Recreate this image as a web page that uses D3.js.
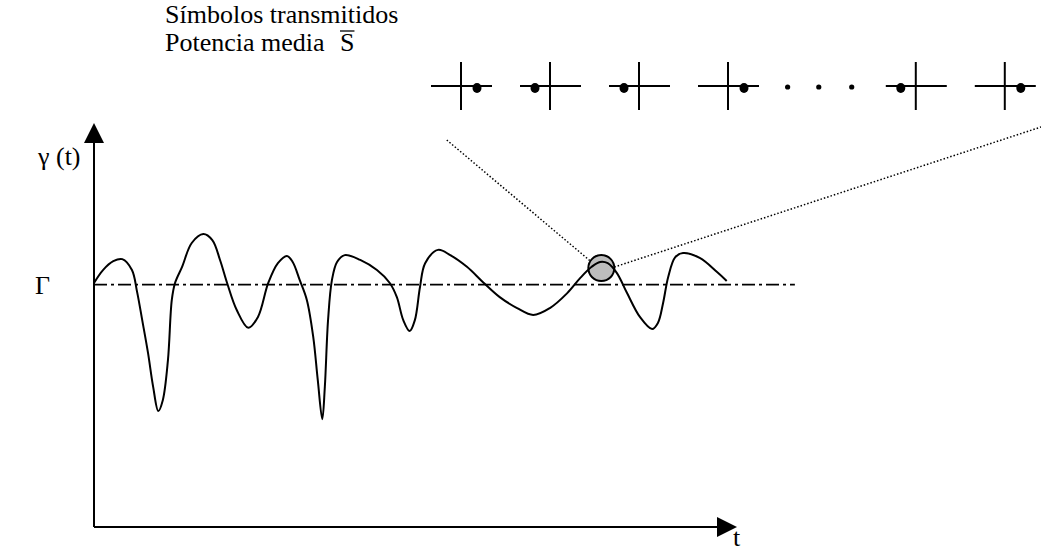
<!DOCTYPE html>
<html>
<head>
<meta charset="utf-8">
<script src="https://cdn.jsdelivr.net/npm/d3@7"></script>
<style>
	body { margin: 0; background: #fff; }
	text { font-family: "Liberation Serif", "Times New Roman", serif; fill: #000; }
</style>
</head>
<body>
<div class="fading-figure"></div>
<script>

// instantaneous SNR gamma(t)
const tValues = [0, 1.4, 3.0, 4.4, 5.9, 6.7, 7.5, 8.4, 9.2, 10.0, 10.7, 11.5, 12.1, 12.6, 13.7, 15.2,
	17.0, 18.4, 19.6, 20.7, 22.2, 24.0, 25.5, 27.1, 28.6, 30.0, 30.9, 32.0, 33.1, 34.1, 34.8, 35.5,
	35.9, 36.4, 37.0, 37.8, 39.0, 41.4, 44.0, 46.0, 47.1, 48.1, 49.1, 49.9, 50.7, 51.5, 53.5, 55.4,
	58.0, 60.5, 63.1, 65.8, 68.3, 70.9, 73.6, 75.6, 77.4, 78.7, 79.9, 81.3, 82.9, 84.9, 86.8, 87.7,
	88.5, 89.3, 90.4, 91.6, 94.2, 96.9, 98.4];
const gammaValues = [6.04, 6.36, 6.58, 6.63, 6.36, 5.82, 5.12, 4.31, 3.47, 2.87, 3.14, 4.13, 5.62, 6.04, 6.44, 7.03,
	7.25, 7.10, 6.61, 6.04, 5.37, 4.93, 5.20, 6.04, 6.53, 6.71, 6.56, 6.11, 5.62, 4.70, 3.64, 2.67,
	3.47, 5.12, 6.11, 6.56, 6.73, 6.61, 6.36, 6.04, 5.69, 5.12, 4.85, 5.12, 5.94, 6.53, 6.86, 6.73,
	6.44, 6.06, 5.69, 5.42, 5.25, 5.42, 5.79, 6.16, 6.44, 6.56, 6.53, 6.29, 5.79, 5.20, 4.90, 5.05,
	5.54, 6.19, 6.68, 6.78, 6.66, 6.31, 6.09];

const threshold = 6.0;        // Gamma
const thresholdEnd = 109;     // dash-dot line runs past the curve
const sampleT = 78.9;         // highlighted instant
const sampleGamma = 6.41;

// transmitted symbols: slot index and sign of the point beside the cross
const symbolSlots = [0, 1, 2, 3, 5.11, 6.11];
const symbolValues = [1, -1, -1, 1, -1, 1];
const ellipsisSlots = [3.67, 4.02, 4.39];

const titleLines = ["Símbolos transmitidos", "Potencia media"];

const width = 1041;
const height = 553;

const x = d3.scaleLinear().domain([0, 100]).range([94, 737]);
const y = d3.scaleLinear().domain([0, 10]).range([527, 123]);
const slotX = d3.scaleLinear().domain([0, 1]).range([461, 550]);
const dotOffset = d3.scaleLinear().domain([-1, 1]).range([-15, 16]);

const data = tValues.map((t, i) => ({ t: t, g: gammaValues[i] }));

const svg = d3.select(".fading-figure").append("svg")
	.attr("width", width)
	.attr("height", height);

// axes with arrow heads
const axes = svg.append("g").attr("class", "axes");
const arrow = 20;

axes.append("line")
	.attr("x1", x(0)).attr("y1", y(0))
	.attr("x2", x(0)).attr("y2", y(10) + arrow)
	.attr("stroke", "#000").attr("stroke-width", 2);
axes.append("path")
	.attr("d", `M${x(0)},${y(10)}L${x(0) - 10},${y(10) + arrow}L${x(0) + 10},${y(10) + arrow}Z`)
	.attr("fill", "#000");

axes.append("line")
	.attr("x1", x(0)).attr("y1", y(0))
	.attr("x2", x(100) - arrow).attr("y2", y(0))
	.attr("stroke", "#000").attr("stroke-width", 2);
axes.append("path")
	.attr("d", `M${x(100)},${y(0)}L${x(100) - arrow},${y(0) - 10}L${x(100) - arrow},${y(0) + 10}Z`)
	.attr("fill", "#000");

// threshold
svg.append("line")
	.attr("x1", x(0)).attr("y1", y(threshold))
	.attr("x2", x(thresholdEnd)).attr("y2", y(threshold))
	.attr("stroke", "#000")
	.attr("stroke-width", 1.8)
	.attr("stroke-dasharray", "13,4,3,4");

// zoom lines from the sample to the symbol row
const rowY = 86;
const zoom = svg.append("g").attr("class", "zoom");
zoom.append("line")
	.attr("x1", slotX(-0.16)).attr("y1", rowY + 54)
	.attr("x2", x(sampleT) - 11).attr("y2", y(sampleGamma) - 7)
	.attr("stroke", "#000").attr("stroke-width", 1.5).attr("stroke-dasharray", "1.5,2");
zoom.append("line")
	.attr("x1", x(sampleT) + 13).attr("y1", y(sampleGamma) - 1)
	.attr("x2", width).attr("y2", rowY + 41)
	.attr("stroke", "#000").attr("stroke-width", 1.5).attr("stroke-dasharray", "1.5,2");

zoom.append("circle")
	.attr("cx", x(sampleT))
	.attr("cy", y(sampleGamma))
	.attr("r", 13)
	.attr("fill", "#bdbdbd")
	.attr("stroke", "#000")
	.attr("stroke-width", 2);

// the curve
const line = d3.line()
	.x((d) => x(d.t))
	.y((d) => y(d.g))
	.curve(d3.curveCatmullRom.alpha(0.5));

svg.append("path")
	.datum(data)
	.attr("d", line)
	.attr("fill", "none")
	.attr("stroke", "#000")
	.attr("stroke-width", 2);

// symbol row
const marks = svg.append("g")
	.attr("class", "symbols")
	.selectAll(".symbol")
		.data(symbolSlots).enter()
	.append("g")
		.attr("transform", (d) => `translate(${slotX(d)}, ${rowY})`);

marks.append("line")
	.attr("x1", -30).attr("x2", 31)
	.attr("stroke", "#000").attr("stroke-width", 2);
marks.append("line")
	.attr("y1", -24).attr("y2", 24)
	.attr("stroke", "#000").attr("stroke-width", 2);
marks.append("ellipse")
	.attr("cx", (d, i) => dotOffset(symbolValues[i]))
	.attr("cy", 2)
	.attr("rx", 4.5)
	.attr("ry", 5)
	.attr("fill", "#000");

svg.append("g")
	.selectAll("circle")
		.data(ellipsisSlots).enter()
	.append("circle")
		.attr("cx", (d) => slotX(d))
		.attr("cy", rowY + 1)
		.attr("r", 2.6)
		.attr("fill", "#000");

// labels
const fontSize = 26;
const title = svg.append("g").attr("font-size", fontSize);
titleLines.forEach((s, i) => {
	title.append("text")
		.attr("x", 165)
		.attr("y", 23 + i * 28)
		.text(s);
});
const sText = title.append("text")
	.attr("x", 340)
	.attr("y", 51)
	.text("S");
const sWidth = sText.node().getComputedTextLength();
title.append("line")
	.attr("x1", 340).attr("x2", 340 + sWidth)
	.attr("y1", 31).attr("y2", 31)
	.attr("stroke", "#000").attr("stroke-width", 1.3);

svg.append("text")
	.attr("font-size", fontSize)
	.attr("x", 38)
	.attr("y", 165)
	.text("γ (t)");

svg.append("text")
	.attr("font-size", fontSize)
	.attr("x", 35)
	.attr("y", y(threshold) + 9)
	.text("Γ");

svg.append("text")
	.attr("font-size", fontSize)
	.attr("x", 733)
	.attr("y", 546)
	.text("t");

</script>
</body>
</html>
